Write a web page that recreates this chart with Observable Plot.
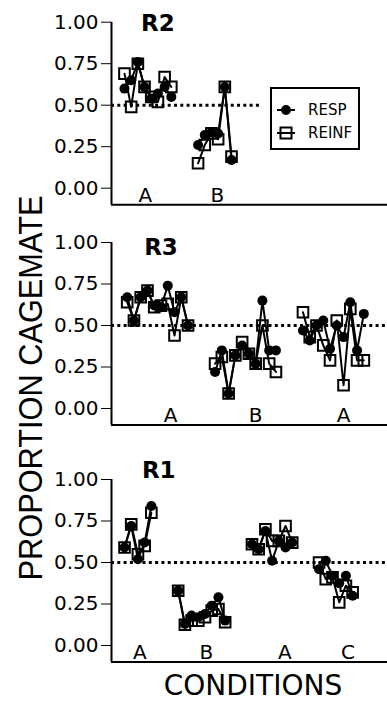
<!DOCTYPE html>
<html><head><meta charset="utf-8">
<script src="https://cdn.jsdelivr.net/npm/d3@7"></script>
<script src="https://cdn.jsdelivr.net/npm/@observablehq/plot@0.6"></script>
<style>
body{margin:0;background:#fff;}
#fig{position:relative;width:387px;height:702px;overflow:hidden;background:#fff;font-family:"DejaVu Sans",sans-serif;}
#fig > *{position:absolute;}
</style></head><body><div id="fig"></div>
<script>
// ---------- data ----------
const seriesNames = ["RESP", "REINF"];
const yTicks = [0, 0.25, 0.5, 0.75, 1];

const R2_conditions = ["A", "B"];
const R2_sessions = [[1,2,3,4,5,6,7,8],[12,13,14,15,16,17]];
const R2_resp  = [[0.60,0.65,0.76,0.61,0.54,0.57,0.61,0.55],[0.26,0.32,0.335,0.33,0.61,0.17]];
const R2_reinf = [[0.69,0.49,0.75,0.61,0.55,0.52,0.67,0.61],[0.15,0.26,0.33,0.295,0.61,0.19]];
const R2_labelX = [4.1, 14.9];

const R3_conditions = ["A", "B", "A"];
const R3_sessions = [[1,2,3,4,5,6,7,8,9,10],[14,15,16,17,18,19,20,21,22,23],[27,28,29,30,31,32,33,34,35,36]];
const R3_resp  = [[0.67,0.53,0.67,0.71,0.62,0.61,0.74,0.58,0.67,0.50],
                  [0.22,0.35,0.09,0.32,0.38,0.33,0.27,0.65,0.35,0.35],
                  [0.47,0.41,0.50,0.53,0.36,0.50,0.43,0.64,0.35,0.57]];
const R3_reinf = [[0.64,0.53,0.67,0.71,0.61,0.62,0.63,0.44,0.67,0.50],
                  [0.27,0.31,0.09,0.32,0.40,0.33,0.27,0.50,0.27,0.22],
                  [0.58,0.43,0.50,0.38,0.29,0.53,0.14,0.60,0.29,0.29]];
const R3_labelX = [7.4, 20.0, 33.0];

const R1_conditions = ["A", "B", "A", "C"];
const R1_sessions = [[1,2,3,4,5],[9,10,11,12,13,14,15,16],[20,21,22,23,24,25,26],[30,31,32,33,34,35]];
const R1_resp  = [[0.59,0.72,0.52,0.62,0.84],
                  [0.33,0.13,0.18,0.17,0.19,0.24,0.29,0.15],
                  [0.61,0.58,0.69,0.51,0.63,0.59,0.62],
                  [0.46,0.51,0.42,0.375,0.42,0.30]];
const R1_reinf = [[0.59,0.73,0.55,0.60,0.80],
                  [0.33,0.125,0.15,0.15,0.17,0.21,0.22,0.14],
                  [0.61,0.58,0.70,0.63,0.63,0.72,0.62],
                  [0.50,0.40,0.41,0.26,0.36,0.32]];
const R1_labelX = [3.3, 13.2, 24.9, 34.3];

// ---------- drawing ----------
const fig = document.getElementById("fig");
const PX_PER_UNIT = 166;

function panel(cfg) {
  const rows = [];
  cfg.sessions.forEach((ss, k) => ss.forEach((s, i) =>
    rows.push({seg: k, s, resp: cfg.resp[k][i], reinf: cfg.reinf[k][i]})));
  const labels = cfg.conds.map((c, k) => ({c, x: cfg.labelX[k]}));
  const mb = 4;
  const innerH = 1.1 * PX_PER_UNIT;
  const x0 = cfg.xDomain[0];
  const svg = Plot.plot({
    width: 387,
    height: cfg.mt + innerH + mb,
    marginLeft: 111, marginRight: 0, marginTop: cfg.mt, marginBottom: mb,
    style: {fontFamily: "DejaVu Sans, sans-serif", fontSize: "20px", color: "black", background: "transparent", overflow: "visible"},
    x: {domain: cfg.xDomain, axis: null},
    y: {domain: [-0.1, 1], ticks: yTicks, tickFormat: d3.format(".2f"), tickSize: 10, tickPadding: 3, label: null},
    marks: [
      Plot.ruleY([0.5], {x1: () => x0, x2: () => cfg.refX2, stroke: "black", strokeWidth: 3, strokeDasharray: "3,3.3"}),
      Plot.ruleX([x0], {y1: -0.1, y2: 1, stroke: "black", strokeWidth: 2}),
      Plot.ruleY([-0.1], {stroke: "black", strokeWidth: 2}),
      Plot.line(rows, {x: "s", y: "reinf", z: "seg", stroke: "black", strokeWidth: 2}),
      Plot.line(rows, {x: "s", y: "resp", z: "seg", stroke: "black", strokeWidth: 2}),
      Plot.dot(rows, {x: "s", y: "reinf", symbol: "square", r: 6, stroke: "black", strokeWidth: 2, fill: "none"}),
      Plot.dot(rows, {x: "s", y: "resp", r: 5, fill: "black", stroke: "none"}),
      Plot.text(labels, {x: "x", y: () => -0.042, text: "c", fontSize: 20, fill: "black"}),
      Plot.text([cfg.name], {x: () => cfg.titleX, y: () => cfg.titleY, text: d => d, fontSize: 23, fontWeight: "bold", fill: "black"})
    ]
  });
  svg.style.left = "0px";
  svg.style.top = cfg.top + "px";
  fig.appendChild(svg);
}

panel({name: "R2", conds: R2_conditions, sessions: R2_sessions, resp: R2_resp, reinf: R2_reinf,
       labelX: R2_labelX, xDomain: [-0.94, 40.32], refX2: 21.6, titleX: 6.0, titleY: 0.99, mt: 21.7, top: 0});
panel({name: "R3", conds: R3_conditions, sessions: R3_sessions, resp: R3_resp, reinf: R3_reinf,
       labelX: R3_labelX, xDomain: [-1.32, 39.5], refX2: 39.5, titleX: 6.0, titleY: 0.97, mt: 30, top: 211.7});
panel({name: "R1", conds: R1_conditions, sessions: R1_sessions, resp: R1_resp, reinf: R1_reinf,
       labelX: R1_labelX, xDomain: [-0.94, 40.2], refX2: 40.2, titleX: 6.1, titleY: 1.056, mt: 30, top: 449.3});

// legend
const leg = d3.create("svg").attr("width", 100).attr("height", 70)
  .style("left", "268px").style("top", "85px");
leg.append("rect").attr("x", 3).attr("y", 3).attr("width", 88).attr("height", 61)
  .attr("fill", "white").attr("stroke", "black").attr("stroke-width", 2);
seriesNames.forEach((n, i) => {
  const cy = 25 + i * 23;
  leg.append("line").attr("x1", 9).attr("x2", 27).attr("y1", cy).attr("y2", cy)
    .attr("stroke", "black").attr("stroke-width", 2);
  if (i === 0) leg.append("circle").attr("cx", 18).attr("cy", cy).attr("r", 5).attr("fill", "black");
  else leg.append("rect").attr("x", 12.5).attr("y", cy - 5.5).attr("width", 11).attr("height", 11)
    .attr("fill", "none").attr("stroke", "black").attr("stroke-width", 2);
  leg.append("text").attr("x", 40).attr("y", cy).attr("dy", "0.36em")
    .attr("font-family", "DejaVu Sans, sans-serif").attr("font-size", 15).text(n);
});
fig.appendChild(leg.node());

// axis titles
const yl = d3.create("svg").attr("width", 60).attr("height", 702).style("left", "0px").style("top", "0px");
yl.append("text").attr("transform", "translate(29.5,388) rotate(-90)")
  .attr("text-anchor", "middle").attr("dy", "0.36em")
  .attr("font-family", "Liberation Sans, Arial, sans-serif").attr("font-size", 34)
  .attr("textLength", 385).attr("lengthAdjust", "spacingAndGlyphs")
  .text("PROPORTION CAGEMATE");
fig.appendChild(yl.node());

const xl = d3.create("svg").attr("width", 387).attr("height", 38).style("left", "0px").style("top", "664px");
xl.append("text").attr("x", 253).attr("y", 21).attr("text-anchor", "middle").attr("dy", "0.36em")
  .attr("font-family", "DejaVu Sans, sans-serif").attr("font-size", 28)
  .text("CONDITIONS");
fig.appendChild(xl.node());
</script></body></html>
